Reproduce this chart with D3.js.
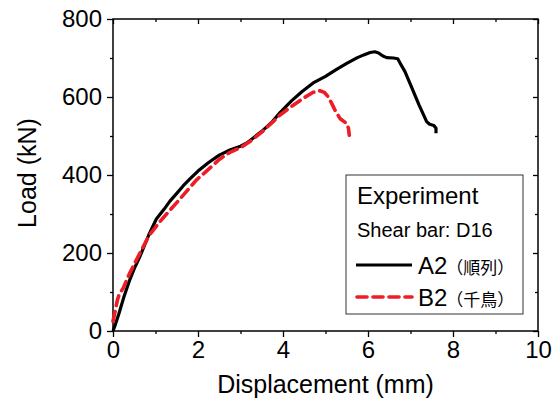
<!DOCTYPE html>
<html>
<head>
<meta charset="utf-8">
<title>Load - Displacement</title>
<script src="https://d3js.org/d3.v7.min.js"></script>
<style>
  body { margin: 0; background: #fff; }
  text { font-family: "Liberation Sans", Arial, sans-serif; fill: #000; }
</style>
</head>
<body>
<div id="chart"></div>
<script>
// A2 (順列) - displacement (mm), load (kN)
var a2Disp = [0, 0.05, 0.14, 0.25, 0.39, 0.5, 0.63, 0.75, 0.86, 1.02, 1.2, 1.34, 1.5, 1.65, 1.81, 2.0, 2.25, 2.5, 2.75, 3.0, 3.15, 3.3, 3.5, 3.75, 3.93, 4.2, 4.45, 4.71, 5.0, 5.25, 5.5, 5.75, 5.9, 6.05, 6.16, 6.25, 6.35, 6.44, 6.6, 6.7, 6.76, 6.87, 7.0, 7.2, 7.38, 7.45, 7.55, 7.6, 7.6];
var a2Load = [0, 15, 45, 85, 130, 160, 190, 222, 251, 287, 312, 333, 353, 372, 390, 410, 432, 451, 464, 474, 482, 495, 512, 537, 560, 590, 614, 636, 653, 670, 686, 701, 708, 714, 716, 713, 705, 701, 700, 698, 686, 665, 632, 580, 537, 530, 527, 520, 507];

// B2 (千鳥)
var b2Disp = [0, 0.04, 0.1, 0.14, 0.24, 0.4, 0.63, 0.85, 1.1, 1.3, 1.49, 1.73, 1.96, 2.2, 2.5, 2.75, 3.0, 3.25, 3.5, 3.75, 3.93, 4.24, 4.48, 4.71, 4.87, 4.97, 5.06, 5.14, 5.22, 5.34, 5.5, 5.54, 5.56];
var b2Load = [25, 45, 78, 92, 110, 150, 199, 245, 280, 305, 328, 358, 387, 410, 440, 458, 470, 488, 510, 535, 554, 579, 597, 612, 616, 612, 601, 585, 567, 545, 532, 520, 502];

var xTicks = [0, 2, 4, 6, 8, 10];
var xMinor = [1, 3, 5, 7, 9];
var yTicks = [0, 200, 400, 600, 800];
var yMinor = [100, 300, 500, 700];

var margin = { top: 19, right: 20, bottom: 71, left: 113 },
    width = 538 - margin.left,
    height = 331 - margin.top;

var svg = d3.select("#chart")
    .append("svg")
    .attr("width", 558)
    .attr("height", 402)
    .append("g")
    .attr("transform", "translate(" + margin.left + "," + margin.top + ")");

var x = d3.scaleLinear().domain([0, 10]).range([0, width]);
var y = d3.scaleLinear().domain([0, 800]).range([height, 0]);

// axes: major outward on bottom/left, mirrored inward on top/right
function styleAxis(g) {
    g.select(".domain").remove();
    g.selectAll("line").attr("stroke", "#000").attr("stroke-width", 1.3);
    g.selectAll("text").style("font-size", "24px");
}

svg.append("g")
    .attr("transform", "translate(0," + height + ")")
    .call(d3.axisBottom(x).tickValues(xTicks).tickSize(6).tickPadding(4).tickFormat(d3.format("d")))
    .call(styleAxis);
svg.append("g")
    .attr("transform", "translate(0," + height + ")")
    .call(d3.axisBottom(x).tickValues(xMinor).tickSize(3).tickFormat(""))
    .call(styleAxis);
svg.append("g")
    .call(d3.axisLeft(y).tickValues(yTicks).tickSize(6).tickPadding(5).tickFormat(d3.format("d")))
    .call(styleAxis);
svg.append("g")
    .call(d3.axisLeft(y).tickValues(yMinor).tickSize(3).tickFormat(""))
    .call(styleAxis);

svg.append("g")
    .call(d3.axisTop(x).tickValues(xTicks).tickSize(-5).tickFormat(""))
    .call(styleAxis);
svg.append("g")
    .call(d3.axisTop(x).tickValues(xMinor).tickSize(-3).tickFormat(""))
    .call(styleAxis);
svg.append("g")
    .attr("transform", "translate(" + width + ",0)")
    .call(d3.axisRight(y).tickValues(yTicks).tickSize(-5).tickFormat(""))
    .call(styleAxis);
svg.append("g")
    .attr("transform", "translate(" + width + ",0)")
    .call(d3.axisRight(y).tickValues(yMinor).tickSize(-3).tickFormat(""))
    .call(styleAxis);

// frame
svg.append("rect")
    .attr("x", 0).attr("y", 0)
    .attr("width", width).attr("height", height)
    .attr("fill", "none")
    .attr("stroke", "#000")
    .attr("stroke-width", 1.5);

// axis titles
svg.append("text")
    .attr("text-anchor", "middle")
    .attr("x", width / 2)
    .attr("y", height + 62)
    .style("font-size", "25px")
    .text("Displacement (mm)");

svg.append("text")
    .attr("text-anchor", "middle")
    .attr("transform", "rotate(-90)")
    .attr("x", -height / 2 + 2)
    .attr("y", -margin.left + 36)
    .style("font-size", "25px")
    .text("Load (kN)");

// curves
var line = d3.line()
    .x(function (d) { return x(d[0]); })
    .y(function (d) { return y(d[1]); });

var a2 = a2Disp.map(function (d, i) { return [d, a2Load[i]]; });
var b2 = b2Disp.map(function (d, i) { return [d, b2Load[i]]; });

svg.append("path")
    .datum(a2)
    .attr("d", line)
    .attr("fill", "none")
    .attr("stroke", "#000")
    .attr("stroke-width", 3.2)
    .attr("stroke-linejoin", "round");

svg.append("path")
    .datum(b2)
    .attr("d", line)
    .attr("fill", "none")
    .attr("stroke", "#ee1c25")
    .attr("stroke-width", 3.6)
    .attr("stroke-dasharray", "10,6")
    .attr("stroke-linecap", "round")
    .attr("stroke-linejoin", "round");

// legend
var lg = svg.append("g").attr("transform", "translate(" + (346 - margin.left) + "," + (175 - margin.top) + ")");
lg.append("rect")
    .attr("width", 177).attr("height", 139)
    .attr("fill", "#fff")
    .attr("stroke", "#333")
    .attr("stroke-width", 1);
lg.append("text").attr("x", 11).attr("y", 29).style("font-size", "24px").text("Experiment");
lg.append("text").attr("x", 11).attr("y", 62).style("font-size", "20px").text("Shear bar: D16");

lg.append("line").attr("x1", 10).attr("x2", 66).attr("y1", 90).attr("y2", 90)
    .attr("stroke", "#000").attr("stroke-width", 3.2);
lg.append("line").attr("x1", 11).attr("x2", 66).attr("y1", 122).attr("y2", 122)
    .attr("stroke", "#ee1c25").attr("stroke-width", 3.6)
    .attr("stroke-dasharray", "10,6").attr("stroke-linecap", "round");

var t1 = lg.append("text").attr("x", 72).attr("y", 99).style("font-size", "24px");
t1.append("tspan").text("A2");
t1.append("tspan").attr("dx", -1).style("font-size", "17px").style("font-family", "'Noto Sans CJK JP', sans-serif").text("（順列）");
var t2 = lg.append("text").attr("x", 72).attr("y", 131).style("font-size", "24px");
t2.append("tspan").text("B2");
t2.append("tspan").attr("dx", -1).style("font-size", "17px").style("font-family", "'Noto Sans CJK JP', sans-serif").text("（千鳥）");
</script>
</body>
</html>
